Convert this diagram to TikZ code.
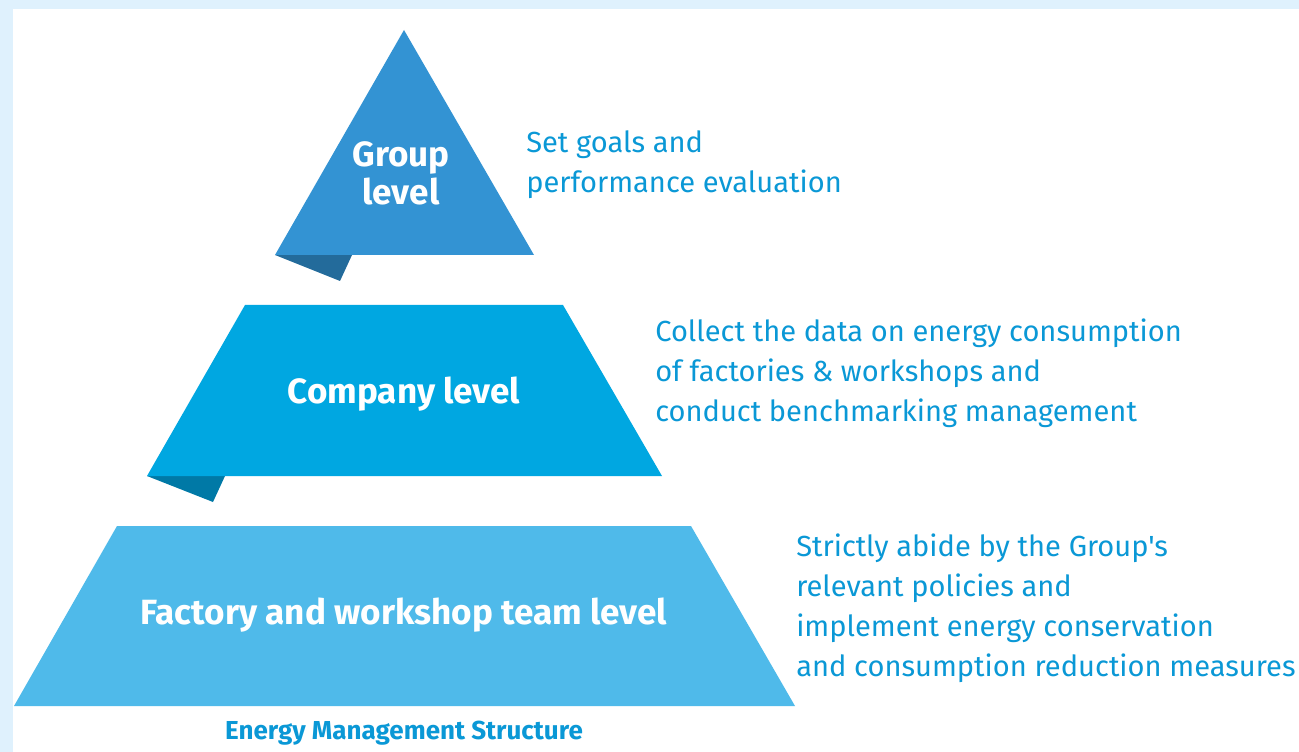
\documentclass[tikz,border=0pt]{standalone}
\usepackage{fontspec}
\setmainfont{Fira Sans}
\newfontfamily\dinfont{Fira Sans}
\definecolor{framebl}{HTML}{DFF1FD}
\definecolor{groupbl}{HTML}{3393D3}
\definecolor{groupsh}{HTML}{236B9B}
\definecolor{compbl}{HTML}{00A7E1}
\definecolor{compsh}{HTML}{0079A6}
\definecolor{factbl}{HTML}{4FBAEA}
\definecolor{descbl}{HTML}{0A98D6}
\tikzset{
  levelname/.style={text=white, font=\dinfont\bfseries\fontsize{26.3}{29}\selectfont, align=center, inner sep=0pt},
  desc/.style={text=descbl, font=\dinfont\fontsize{21.8}{30}\selectfont, align=left, anchor=base west, inner sep=0pt},
}
\begin{document}
\begin{tikzpicture}[x=0.75pt, y=-0.75pt]
  %% ── Frame ──────────────────────────────────────────────────
  \fill[framebl] (0,0) rectangle (1299,752);
  \fill[white] (13,9) rectangle (1299,752);
  \useasboundingbox (0,0) rectangle (1299,752);
  %% ── Pyramid levels (fold first, body on top) ───────────────
  \fill[groupsh] (275,255) -- (340,281) -- (352,255) -- cycle;
  \fill[groupbl] (404,30) -- (534,255) -- (275,255) -- cycle;
  \fill[compsh]  (147,476) -- (213,502) -- (225,476) -- cycle;
  \fill[compbl]  (245,305) -- (563,305) -- (662,476) -- (147,476) -- cycle;
  \fill[factbl]  (117,526) -- (691,526) -- (795,706) -- (14,706) -- cycle;
  %% ── Level names (base = last line) ─────────────────────────
  \node[levelname, anchor=base] (group) at (401,205) {Group\\level};
  \node[levelname, anchor=base] (company) at (404,403) {Company level};
  \node[levelname, anchor=base] (factory) at (404,624) {Factory and workshop team level};
  %% ── Descriptions ───────────────────────────────────────────
  \node[desc] (groupdesc) at (526,193) {Set goals and\\performance evaluation};
  \node[desc] (companydesc) at (655,421) {Collect the data on energy consumption\\of factories \& workshops and\\conduct benchmarking management};
  \node[desc] (factorydesc) at (796,676) {Strictly abide by the Group's\\relevant policies and\\implement energy conservation\\and consumption reduction measures};
  %% ── Caption ────────────────────────────────────────────────
  \node[text=descbl, font=\dinfont\bfseries\fontsize{19.5}{22}\selectfont, anchor=base] (caption) at (404,739) {Energy Management Structure};
\end{tikzpicture}
\end{document}
